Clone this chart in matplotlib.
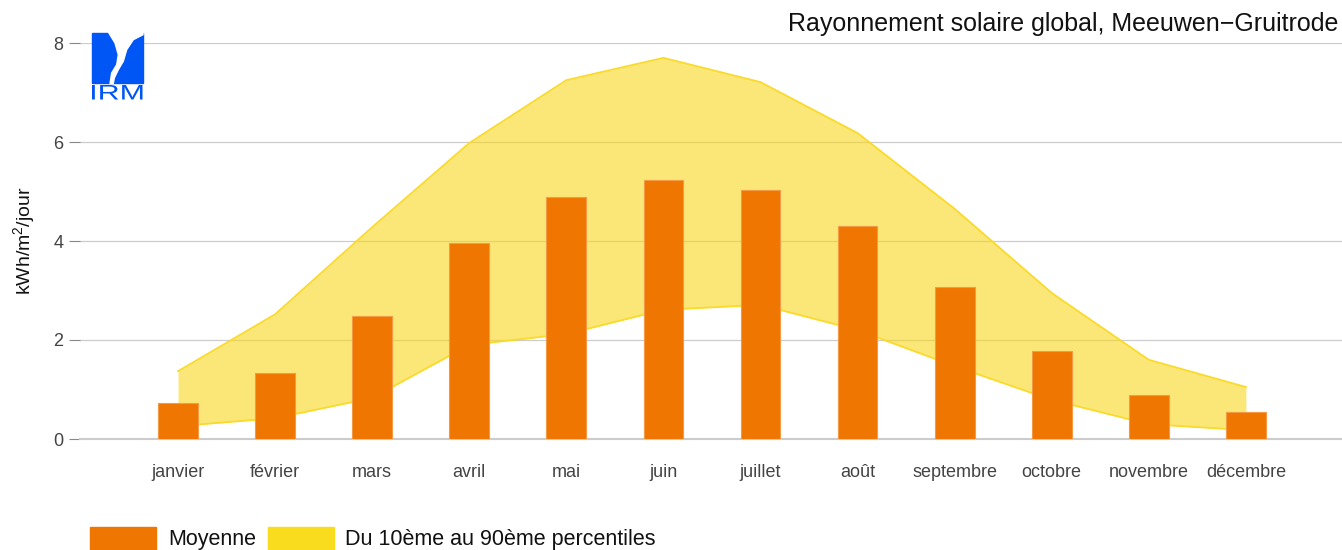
import matplotlib
matplotlib.use("Agg")
import matplotlib.pyplot as plt
from matplotlib.patches import Rectangle, Polygon, PathPatch
from matplotlib.textpath import TextPath
from matplotlib.font_manager import FontProperties
from matplotlib.transforms import Affine2D

plt.rcParams['font.family'] = ['Liberation Sans', 'DejaVu Sans']
plt.rcParams['mathtext.fontset'] = 'custom'
plt.rcParams['mathtext.rm'] = 'Liberation Sans'

months = ["janvier", "février", "mars", "avril", "mai", "juin", "juillet",
          "août", "septembre", "octobre", "novembre", "décembre"]
mean_vals = [0.73, 1.33, 2.48, 3.96, 4.89, 5.23, 5.03, 4.30, 3.07, 1.78, 0.89, 0.55]
p90_vals = [1.37, 2.52, 4.28, 5.98, 7.25, 7.70, 7.21, 6.18, 4.65, 2.95, 1.60, 1.05]
p10_vals = [0.26, 0.42, 0.83, 1.90, 2.12, 2.61, 2.71, 2.20, 1.47, 0.79, 0.30, 0.18]
yticks = [0, 2, 4, 6, 8]

W, H = 1342, 550
fig = plt.figure(figsize=(W / 100, H / 100), dpi=100)
ax = fig.add_axes([80 / W, 1 - 439 / H, (W - 80) / W, (439 - 43) / H])

x = list(range(len(months)))
ax.set_axisbelow(True)
ax.yaxis.grid(True, color="#cccccc", linewidth=0.9)
ax.fill_between(x, p10_vals, p90_vals, color="#F9D71C", alpha=0.6, linewidth=0, zorder=2)
ax.plot(x, p90_vals, color="#FADA2A", linewidth=1.3, zorder=3)
ax.plot(x, p10_vals, color="#FADA2A", linewidth=1.3, zorder=3)
ax.bar(x, mean_vals, width=0.41, color="#EF7600", edgecolor="#F49A45", linewidth=0.8, zorder=4)

ax.set_xlim(-1.01, 11.99)
ax.set_ylim(0, 8)
ax.set_yticks(yticks)
ax.set_xticks(x)
ax.set_xticklabels(months)
for s in ["top", "right", "left"]:
    ax.spines[s].set_visible(False)
ax.spines["bottom"].set_color("#cccccc")
ax.spines["bottom"].set_linewidth(1.5)
ax.tick_params(axis="y", length=8, color="#888888", labelcolor="#444444", labelsize=13, pad=4, width=0.8)
ax.tick_params(axis="x", length=0, labelcolor="#444444", labelsize=13, pad=18)


def fx(px):
    return px / W


def fy(py):
    return 1 - py / H


fig.text(fx(25), fy(241), "kWh/m$^2$/jour", rotation=90, ha="center", va="center",
         fontsize=14, color="#111111")

fig.text(1338 / W, 1 - 24 / H, "Rayonnement solaire global, Meeuwen\u2212Gruitrode",
         ha="right", va="center", fontsize=18, color="#111111")

# logo
blue = "#0055F5"
fig.patches.append(Rectangle((fx(92), fy(83)), fx(142.5) - fx(92), fy(33) - fy(83),
                             transform=fig.transFigure, color=blue, zorder=5))
white_pts = [(108.3, 32), (143, 32), (143, 34.7), (133.3, 39.7), (126.7, 49.7),
             (123.3, 61.3), (118.3, 69.7), (114.3, 78), (113.3, 83.5),
             (110, 83.5), (111.7, 73), (116.7, 64.7), (118.3, 54.7), (115, 43)]
fig.patches.append(Polygon([(fx(a), fy(b)) for a, b in white_pts], closed=True,
                           transform=fig.transFigure, color="white", zorder=6))
tp = TextPath((0, 0), "IRM", size=10, prop=FontProperties(family="Liberation Sans"))
bb = tp.get_extents()
tx0, tx1, ty0, ty1 = 92, 142.5, 85, 99.5
sx = (fx(tx1) - fx(tx0)) / bb.width
sy = (fy(ty0) - fy(ty1)) / bb.height
tr = Affine2D().translate(-bb.x0, -bb.y0).scale(sx, sy).translate(fx(tx0), fy(ty1))
fig.patches.append(PathPatch(tr.transform_path(tp), transform=fig.transFigure,
                             color=blue, lw=0, zorder=7))

# legend
fig.patches.append(Rectangle((fx(90), fy(550)), fx(156) - fx(90), fy(527) - fy(550),
                             transform=fig.transFigure, color="#EF7600"))
fig.text(fx(168), fy(539), "Moyenne", ha="left", va="center", fontsize=15.5, color="#111111")
fig.patches.append(Rectangle((fx(268), fy(550)), fx(334) - fx(268), fy(527) - fy(550),
                             transform=fig.transFigure, color="#FADC1E"))
fig.text(fx(345), fy(539), "Du 10ème au 90ème percentiles", ha="left", va="center",
         fontsize=15.5, color="#111111")

fig.savefig("out.png", dpi=100)
